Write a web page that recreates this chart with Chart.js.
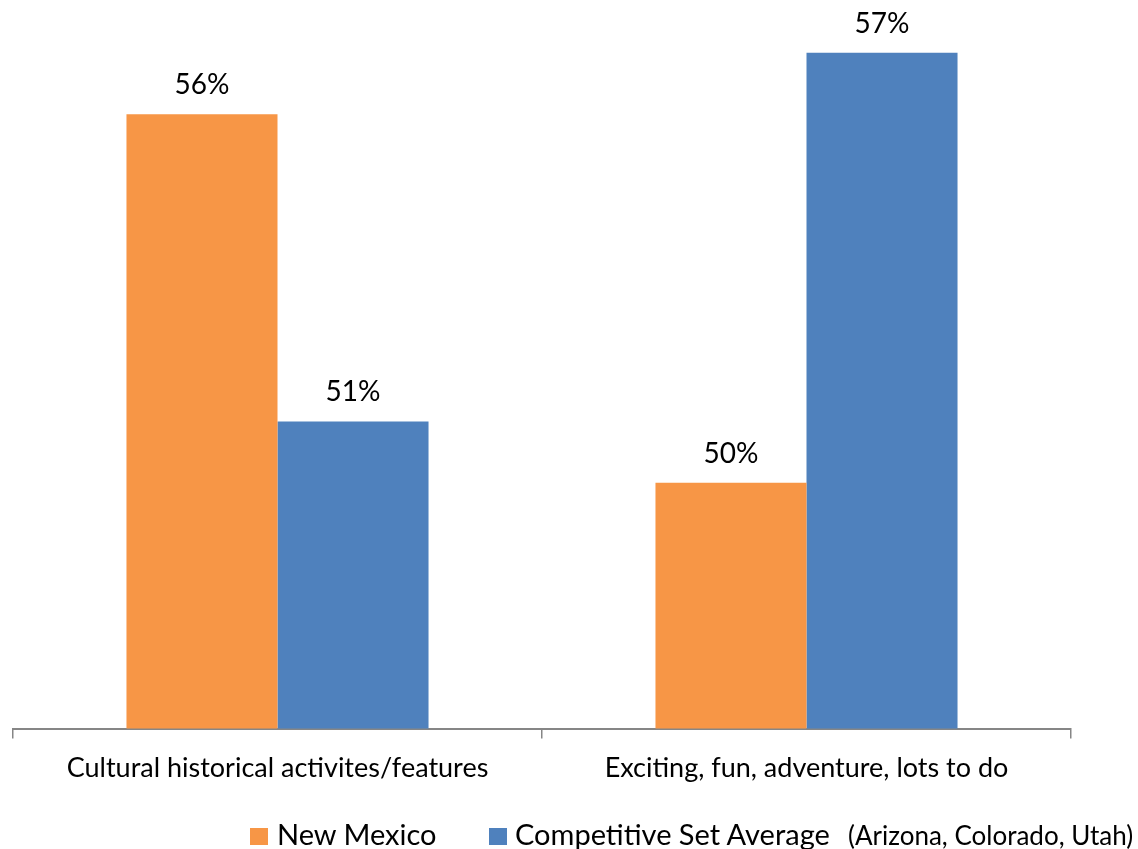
<!DOCTYPE html>
<html>
<head>
<meta charset="utf-8">
<script src="https://cdn.jsdelivr.net/npm/chart.js@4"></script>
<style>
	html, body { margin: 0; padding: 0; background: #fff; overflow: hidden; }
	#wrap { position: relative; width: 1138px; height: 849px; }
	.lg { position: absolute; font-family: Lato, sans-serif; color: #000; white-space: nowrap; line-height: 1; }
	.sw { position: absolute; width: 18px; height: 17px; top: 828px; }
	.big { font-size: 29px; top: 819px; }
	.small { font-size: 26px; top: 822px; }
</style>
</head>
<body>
<div id="wrap">
	<canvas id="chart-attributes" width="1138" height="849"></canvas>
	<div class="sw" style="left:250px; background:#F79646"></div>
	<div class="lg big" id="lg-0" style="left:277px"></div>
	<div class="sw" style="left:489px; background:#4F81BD"></div>
	<div class="lg big" id="lg-1" style="left:515px"></div>
	<div class="lg small" style="left:848px">(Arizona, Colorado, Utah)</div>
</div>
<script>
const CATEGORIES = ["Cultural historical activites/features", "Exciting, fun, adventure, lots to do"];
const NEW_MEXICO = [56, 50];
const COMP_SET = [51, 57];
const SERIES_NAMES = ["New Mexico", "Competitive Set Average"];

const COLORS = {
	ORANGE: "#F79646",
	BLUE: "#4F81BD",
	AXIS: "#868686",
};

document.getElementById("lg-0").textContent = SERIES_NAMES[0];
document.getElementById("lg-1").textContent = SERIES_NAMES[1];

// value labels above the bars
const barLabels = {
	id: "barLabels",
	afterDatasetsDraw(chart) {
		const { ctx } = chart;
		ctx.save();
		ctx.font = "28px Lato, sans-serif";
		ctx.fillStyle = "#000";
		ctx.textAlign = "center";
		ctx.textBaseline = "middle";
		chart.data.datasets.forEach((ds, i) => {
			chart.getDatasetMeta(i).data.forEach((bar, j) => {
				ctx.fillText(ds.data[j] + "%", bar.x, bar.y - 29);
			});
		});
		ctx.restore();
	},
};

(() => {
	const CHART_WRAPPER = document.getElementById("chart-attributes");

	const CHART_DATA = {
		labels: CATEGORIES,
		datasets: [
			{
				label: SERIES_NAMES[0],
				data: NEW_MEXICO,
				backgroundColor: COLORS.ORANGE,
				borderWidth: 0,
				categoryPercentage: 0.571,
				barPercentage: 1,
			},
			{
				label: SERIES_NAMES[1],
				data: COMP_SET,
				backgroundColor: COLORS.BLUE,
				borderWidth: 0,
				categoryPercentage: 0.571,
				barPercentage: 1,
			},
		],
	};

	const CHART_CONFIG = {
		type: "bar",
		data: CHART_DATA,
		plugins: [barLabels],
		options: {
			responsive: false,
			animation: false,
			layout: {
				padding: { left: 13, right: 67, top: 0, bottom: 52 },
			},
			plugins: {
				legend: { display: false },
				title: { display: false },
				tooltip: { enabled: false },
			},
			scales: {
				x: {
					border: { display: true, color: COLORS.AXIS, width: 2 },
					grid: {
						offset: true,
						drawOnChartArea: false,
						drawTicks: true,
						tickLength: 10,
						color: COLORS.AXIS,
						lineWidth: 1.5,
					},
					ticks: {
						padding: 13,
						color: "#000",
						font: { family: "Lato, sans-serif", size: 27 },
						maxRotation: 0,
					},
				},
				y: {
					display: false,
					min: 46,
					max: 57.86,
				},
			},
		},
	};

	if (CHART_WRAPPER) {
		new Chart(CHART_WRAPPER, CHART_CONFIG);
	}
})();
</script>
</body>
</html>
